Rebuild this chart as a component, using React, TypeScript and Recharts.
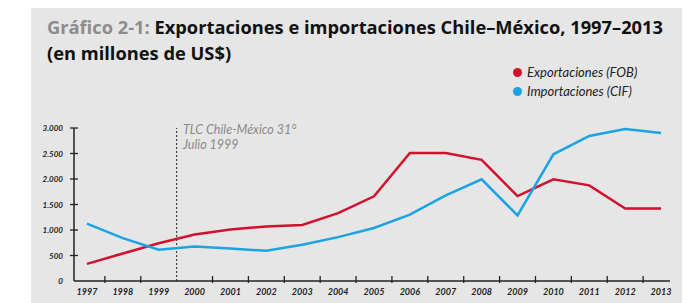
import { LineChart, Line, XAxis, YAxis, ReferenceLine } from 'recharts'

const years = ['1997', '1998', '1999', '2000', '2001', '2002', '2003', '2004', '2005', '2006', '2007', '2008', '2009', '2010', '2011', '2012', '2013']
const exportaciones = [335, 540, 740, 910, 1010, 1070, 1100, 1330, 1660, 2510, 2510, 2375, 1665, 1995, 1875, 1420, 1420]
const importaciones = [1125, 840, 612, 677, 635, 592, 710, 860, 1040, 1300, 1680, 1995, 1285, 2485, 2845, 2980, 2900]
const yTicks = [0, 500, 1000, 1500, 2000, 2500, 3000]

const data = years.map((year, i) => ({ year, exp: exportaciones[i], imp: importaciones[i] }))

const RED = '#d2112d'
const BLUE = '#1ba3e3'
const INK = '#222'

const fmt = (v: number) => (v === 0 ? '0' : v.toLocaleString('de-DE'))

function XTick(props: any) {
  const { x, y, payload, index } = props
  const half = payload.offset ?? 17.9
  const showMark = index !== 2 && index !== years.length - 1
  return (
    <g>
      <text x={x} y={y + 14} textAnchor="middle" fontFamily="Lato" fontStyle="italic" fontWeight={700} fontSize={9} fill={INK}>
        {payload.value}
      </text>
      {showMark && <line x1={x + half} x2={x + half} y1={y - 5} y2={y + 2} stroke={INK} strokeWidth={1.3} />}
    </g>
  )
}

function YTick(props: any) {
  const { x, y, payload } = props
  return (
    <g>
      <text x={x - 11} y={y + 3} textAnchor="end" fontFamily="Lato" fontStyle="italic" fontWeight={700} fontSize={8} fill={INK}>
        {fmt(payload.value)}
      </text>
      {payload.value !== 0 && <line x1={x - 4} x2={x + 4} y1={y} y2={y} stroke={INK} strokeWidth={1.3} />}
    </g>
  )
}

export default function App() {
  return (
    <div style={{ position: 'absolute', left: 0, top: 0, width: 690, height: 303, background: '#fff', overflow: 'hidden' }}>
      <div style={{ position: 'absolute', left: 31, top: 8, width: 651, height: 295, background: '#e6e6e6' }} />
      <div
        style={{
          position: 'absolute',
          left: 47,
          top: 14,
          width: 640,
          fontFamily: '"Open Sans"',
          fontWeight: 700,
          fontSize: 18.3,
          lineHeight: '26px',
          color: '#111',
          whiteSpace: 'nowrap',
        }}
      >
        <span style={{ color: '#8c8c8c' }}>Gráfico 2-1: </span>Exportaciones e importaciones Chile–México, 1997–2013
        <br />
        (en millones de US$)
      </div>

      <div style={{ position: 'absolute', left: 513, top: 63, fontFamily: 'Lato', fontStyle: 'italic', fontSize: 13, lineHeight: '19px', color: INK }}>
        <div style={{ display: 'flex', alignItems: 'center' }}>
          <span style={{ width: 9, height: 9, borderRadius: '50%', background: RED, marginRight: 5 }} />
          Exportaciones (FOB)
        </div>
        <div style={{ display: 'flex', alignItems: 'center' }}>
          <span style={{ width: 9, height: 9, borderRadius: '50%', background: BLUE, marginRight: 5 }} />
          Importaciones (CIF)
        </div>
      </div>

      <div style={{ position: 'absolute', left: 183, top: 122, fontFamily: 'Lato', fontStyle: 'italic', fontSize: 12.5, lineHeight: '15px', color: '#8a8a8a' }}>
        TLC Chile-México 31°
        <br />
        Julio 1999
      </div>

      <div style={{ position: 'absolute', left: 0, top: 0 }}>
        <LineChart width={690} height={303} data={data} margin={{ top: 128, right: 20, bottom: 0, left: 34 }}>
          <XAxis
            dataKey="year"
            scale="band"
            height={22}
            padding={{ left: -5, right: -9 }}
            tickSize={0}
            tickMargin={0}
            tickLine={false}
            axisLine={{ stroke: INK, strokeWidth: 1.5 }}
            tick={<XTick />}
            interval={0}
          />
          <YAxis
            width={40}
            domain={[0, 3000]}
            ticks={yTicks}
            tickSize={0}
            tickMargin={0}
            tickLine={false}
            axisLine={{ stroke: INK, strokeWidth: 1.5 }}
            tick={<YTick />}
            interval={0}
          />
          <ReferenceLine x="1999" position="end" stroke={INK} strokeDasharray="2 2" strokeWidth={1} />
          <Line dataKey="exp" stroke={RED} strokeWidth={2.5} dot={false} isAnimationActive={false} />
          <Line dataKey="imp" stroke={BLUE} strokeWidth={2.5} dot={false} isAnimationActive={false} />
        </LineChart>
      </div>
    </div>
  )
}
